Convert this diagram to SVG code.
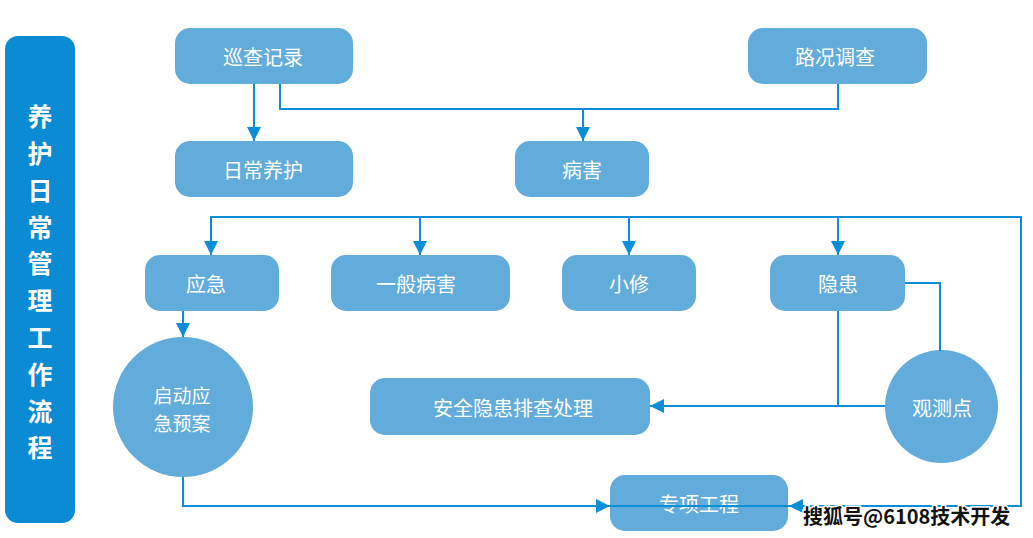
<svg xmlns="http://www.w3.org/2000/svg" width="1033" height="538" viewBox="0 0 1033 538">
<defs>
<style>
.box{fill:#62acdb}
.t{fill:#fff;font-family:"Noto Sans CJK SC","Noto Sans",sans-serif;font-size:20px;text-anchor:middle;dominant-baseline:central}
.s{font-size:19px}
.v{fill:#fff;font-family:"Noto Sans CJK SC",sans-serif;font-size:25px;font-weight:bold;text-anchor:middle;dominant-baseline:central}
.c{fill:none;stroke:#0b8ed8;stroke-width:2}
.ah{fill:#0b8ed8}
.wm{font-family:"Noto Sans CJK SC",sans-serif;font-size:20px;fill:#111;stroke:#fff;stroke-width:3;paint-order:stroke;font-weight:bold}
</style>
<marker id="arr" viewBox="0 0 14 14" refX="14" refY="7" markerWidth="14" markerHeight="14" markerUnits="userSpaceOnUse" orient="auto">
<path d="M0,0 L14,7 L0,14 Z" class="ah"/>
</marker>
</defs>
<rect width="1033" height="538" fill="#fff"/>
<g id="title">
<rect x="5" y="36" width="70" height="487" rx="13" fill="#0b8bd3"/>
<text class="v" x="40" y="115">养</text>
<text class="v" x="40" y="152">护</text>
<text class="v" x="40" y="189">日</text>
<text class="v" x="40" y="226">常</text>
<text class="v" x="40" y="262">管</text>
<text class="v" x="40" y="299">理</text>
<text class="v" x="40" y="336">工</text>
<text class="v" x="40" y="373">作</text>
<text class="v" x="40" y="410">流</text>
<text class="v" x="40" y="446">程</text>
</g>
<g id="n-xuncha"><rect class="box" x="175" y="28" width="178" height="56" rx="15"/><text class="t" x="263" y="56">巡查记录</text></g>
<g id="n-lukuang"><rect class="box" x="748" y="28" width="179" height="56" rx="15"/><text class="t" x="835" y="56">路况调查</text></g>
<g id="n-richang"><rect class="box" x="175" y="141" width="178" height="56" rx="15"/><text class="t" x="263" y="169">日常养护</text></g>
<g id="n-binghai"><rect class="box" x="515" y="141" width="134" height="56" rx="15"/><text class="t" x="582" y="169">病害</text></g>
<g id="n-yingji"><rect class="box" x="145" y="255" width="134" height="56" rx="15"/><text class="t" x="206" y="283">应急</text></g>
<g id="n-yiban"><rect class="box" x="331" y="255" width="179" height="56" rx="15"/><text class="t" x="416" y="283">一般病害</text></g>
<g id="n-xiaoxiu"><rect class="box" x="562" y="255" width="134" height="56" rx="15"/><text class="t" x="629" y="283">小修</text></g>
<g id="n-yinhuan"><rect class="box" x="770" y="255" width="135" height="56" rx="15"/><text class="t" x="838" y="283">隐患</text></g>
<g id="n-qidong"><circle class="box" cx="183" cy="407" r="70"/><text class="t s" x="182" y="394">启动应</text><text class="t s" x="182" y="422">急预案</text></g>
<g id="n-anquan"><rect class="box" x="370" y="378" width="280" height="57" rx="15"/><text class="t" x="513" y="407">安全隐患排查处理</text></g>
<g id="n-guance"><circle class="box" cx="941.5" cy="406.5" r="56.5"/><text class="t" x="942" y="407">观测点</text></g>
<g id="n-zhuanxiang"><rect class="box" x="610" y="475" width="178" height="56" rx="15"/><text class="t" x="699" y="503">专项工程</text></g>
<g id="connectors">
<path class="c" d="M254,84 V141" marker-end="url(#arr)"/>
<path class="c" d="M280,84 V109 H838 V84"/>
<path class="c" d="M583,109 V141" marker-end="url(#arr)"/>
<path class="c" d="M211,255 V217 H1021 V506 H610"/>
<path class="c" d="M211,217 V255" marker-end="url(#arr)"/>
<path class="c" d="M420,217 V255" marker-end="url(#arr)"/>
<path class="c" d="M629,217 V255" marker-end="url(#arr)"/>
<path class="c" d="M838,217 V255" marker-end="url(#arr)"/>
<path class="c" d="M900,506 H789" marker-end="url(#arr)"/>
<path class="c" d="M183,311 V337" marker-end="url(#arr)"/>
<path class="c" d="M183,477 V506 H610" marker-end="url(#arr)"/>
<path class="c" d="M838,311 V406"/>
<path class="c" d="M885,406 H650" marker-end="url(#arr)"/>
<path class="c" d="M905,283 H940 V351"/>
</g>
<text class="wm" x="803" y="524">搜狐号@6108技术开发</text>
</svg>
